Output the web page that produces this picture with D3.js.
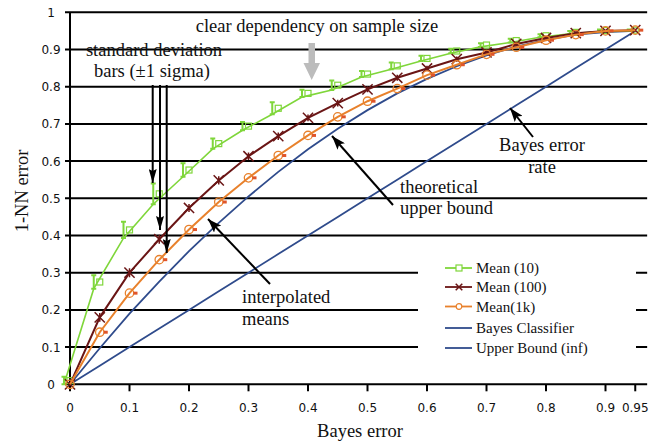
<!DOCTYPE html>
<html>
<head>
<meta charset="utf-8">
<script src="https://cdn.jsdelivr.net/npm/d3@7"></script>
<style>
  body { margin: 0; background: #fff; }
  .tick-label { font-family: "DejaVu Sans", sans-serif; font-size: 12px; fill: #111; }
  .serif { font-family: "Liberation Serif", serif; fill: #111; }
</style>
</head>
<body>
<script>
// bayes error values (x)
const bayes = [0, 0.05, 0.1, 0.15, 0.2, 0.25, 0.3, 0.35, 0.4, 0.45, 0.5,
    0.55, 0.6, 0.65, 0.7, 0.75, 0.8, 0.85, 0.9, 0.95];

// mean 1-NN error, sample size 10 (with sigma)
const mean10 = [0.01, 0.275, 0.415, 0.512, 0.576, 0.647, 0.694, 0.742, 0.782, 0.804, 0.834,
    0.856, 0.876, 0.896, 0.912, 0.924, 0.937, 0.946, 0.951, 0.952];
const sd10 = [0.01, 0.018, 0.022, 0.028, 0.018, 0.014, 0.011, 0.016, 0.010, 0.013, 0.008,
    0.009, 0.007, 0.006, 0.005, 0.005, 0.004, 0.004, 0.003, 0.002];

// sample size 100
const mean100 = [0, 0.18, 0.30, 0.39, 0.474, 0.548, 0.613, 0.667, 0.716, 0.756, 0.793,
    0.824, 0.849, 0.874, 0.892, 0.915, 0.931, 0.944, 0.950, 0.952];
const sd100 = [0.004, 0.012, 0.012, 0.012, 0.011, 0.011, 0.010, 0.010, 0.009, 0.009, 0.008,
    0.008, 0.007, 0.007, 0.006, 0.006, 0.005, 0.005, 0.004, 0.004];

// sample size 1k
const mean1k = [0, 0.14, 0.245, 0.335, 0.416, 0.49, 0.555, 0.615, 0.669, 0.719, 0.761,
    0.795, 0.831, 0.859, 0.887, 0.906, 0.925, 0.94, 0.95, 0.952];
const sd1k = [0.003, 0.004, 0.004, 0.004, 0.004, 0.004, 0.004, 0.004, 0.004, 0.004, 0.004,
    0.004, 0.004, 0.004, 0.004, 0.004, 0.004, 0.004, 0.004, 0.004];

// bayes classifier and asymptotic upper bound
const bayesLine = [0, 0.05, 0.1, 0.15, 0.2, 0.25, 0.3, 0.35, 0.4, 0.45, 0.5,
    0.55, 0.6, 0.65, 0.7, 0.75, 0.8, 0.85, 0.9, 0.95];
const upperBound = [0, 0.097, 0.19, 0.276, 0.358, 0.434, 0.505, 0.571, 0.632, 0.687, 0.737,
    0.782, 0.821, 0.855, 0.884, 0.908, 0.926, 0.94, 0.947, 0.95];

// tick values
const xTicks = [0, 0.1, 0.2, 0.3, 0.4, 0.5, 0.6, 0.7, 0.8, 0.9, 0.95];
const yTicks = [0, 0.1, 0.2, 0.3, 0.4, 0.5, 0.6, 0.7, 0.8, 0.9, 1];

const legendNames = ["Mean (10)", "Mean (100)", "Mean(1k)", "Bayes Classifier", "Upper Bound (inf)"];

const width = 668;
const height = 445;

const green = "#7fd63a";
const maroon = "#6a1515";
const orange = "#e8812c";
const blue = "#2f4b8c";

const x = d3.scaleLinear().domain([0, 1]).range([70, 665]);
const y = d3.scaleLinear().domain([0, 1]).range([384.3, 12.3]);

let svg = d3.select("body")
    .append("svg")
    .attr("width", width)
    .attr("height", height);

svg.append("rect").attr("width", width).attr("height", height).attr("fill", "#fff");

// arrow heads
const defs = svg.append("defs");
defs.append("marker")
    .attr("id", "head")
    .attr("markerUnits", "userSpaceOnUse")
    .attr("viewBox", "0 0 14 10")
    .attr("refX", 14).attr("refY", 5)
    .attr("markerWidth", 14).attr("markerHeight", 10)
    .attr("orient", "auto")
    .append("path")
    .attr("d", "M0,0 L14,5 L0,10 L3,5 Z")
    .attr("fill", "#000");
defs.append("marker")
    .attr("id", "thin")
    .attr("markerUnits", "userSpaceOnUse")
    .attr("viewBox", "0 0 14 8")
    .attr("refX", 14).attr("refY", 4)
    .attr("markerWidth", 14).attr("markerHeight", 8)
    .attr("orient", "auto")
    .append("path")
    .attr("d", "M0,0 L14,4 L0,8 L2,4 Z")
    .attr("fill", "#000");

// horizontal grid lines
svg.append("g")
    .selectAll("line")
    .data(yTicks.slice(1))
    .enter()
    .append("line")
    .attr("x1", x(0) - 5)
    .attr("x2", x(0.97))
    .attr("y1", d => y(d))
    .attr("y2", d => y(d))
    .attr("stroke", "#000")
    .attr("stroke-width", 2);

// x axis
const xAxis = svg.append("g")
    .attr("transform", "translate(0," + y(0) + ")");
xAxis.append("line")
    .attr("x1", x(0) - 5).attr("x2", x(0.97))
    .attr("stroke", "#000").attr("stroke-width", 2);
xAxis.selectAll(".tk")
    .data(xTicks)
    .enter()
    .append("line")
    .attr("x1", d => x(d)).attr("x2", d => x(d))
    .attr("y1", 0).attr("y2", 7)
    .attr("stroke", "#000").attr("stroke-width", 2);
xAxis.selectAll("text")
    .data(xTicks)
    .enter()
    .append("text")
    .attr("class", "tick-label")
    .attr("x", d => x(d))
    .attr("y", 28)
    .attr("text-anchor", "middle")
    .text(d => d3.format("")(d));

// y axis
svg.append("line")
    .attr("x1", x(0)).attr("x2", x(0))
    .attr("y1", y(1)).attr("y2", y(0) + 6)
    .attr("stroke", "#000").attr("stroke-width", 2);
svg.append("g")
    .selectAll("text")
    .data(yTicks)
    .enter()
    .append("text")
    .attr("class", "tick-label")
    .attr("x", 51)
    .attr("y", d => y(d) + 4.5)
    .attr("text-anchor", "middle")
    .text(d => d3.format("")(d));

// axis titles
svg.append("text")
    .attr("class", "serif")
    .attr("x", 360).attr("y", 437)
    .attr("text-anchor", "middle")
    .style("font-size", "18.5px")
    .text("Bayes error");
svg.append("text")
    .attr("class", "serif")
    .attr("transform", "translate(28,191) rotate(-90)")
    .attr("text-anchor", "middle")
    .style("font-size", "18.5px")
    .text("1-NN error");

// lines
const line = d3.line();

svg.append("path")
    .datum(bayes.map((b, i) => [x(b), y(bayesLine[i])]))
    .attr("d", line)
    .attr("fill", "none").attr("stroke", blue).attr("stroke-width", 1.8);
svg.append("path")
    .datum(bayes.map((b, i) => [x(b), y(upperBound[i])]))
    .attr("d", line)
    .attr("fill", "none").attr("stroke", blue).attr("stroke-width", 1.8);

// mean (10): line runs through the lower ends of the sigma bars, bars drawn left of the squares
svg.append("path")
    .datum(bayes.map((b, i) => [x(b) - 6, y(mean10[i] - sd10[i])]))
    .attr("d", line)
    .attr("fill", "none").attr("stroke", green).attr("stroke-width", 1.6);
const bars10 = svg.append("g").attr("stroke", green).attr("stroke-width", 2);
bars10.selectAll(".v")
    .data(bayes)
    .enter()
    .append("path")
    .attr("d", (b, i) => {
        const cx = x(b) - 6, y0 = y(mean10[i] - sd10[i]), y1 = y(mean10[i] + sd10[i]);
        return "M" + cx + "," + y0 + "V" + y1 + "M" + (cx - 2.5) + "," + y1 + "H" + (cx + 2.5) +
            "M" + (cx - 2.5) + "," + y0 + "H" + (cx + 2.5);
    })
    .attr("fill", "none");
svg.append("g")
    .selectAll("rect")
    .data(bayes)
    .enter()
    .append("rect")
    .attr("x", b => x(b) - 3)
    .attr("y", (b, i) => y(mean10[i]) - 3)
    .attr("width", 6).attr("height", 6)
    .attr("fill", "none").attr("stroke", green).attr("stroke-width", 1.2);

// mean (100)
svg.append("path")
    .datum(bayes.map((b, i) => [x(b), y(mean100[i])]))
    .attr("d", line)
    .attr("fill", "none").attr("stroke", maroon).attr("stroke-width", 2);
svg.append("g")
    .selectAll("path")
    .data(bayes)
    .enter()
    .append("path")
    .attr("transform", (b, i) => "translate(" + x(b) + "," + y(mean100[i]) + ")")
    .attr("d", (b, i) => d3.symbol(d3.symbolTimes, 70)() +
        "M0," + (y(0) - y(sd100[i])) + "V" + (y(sd100[i]) - y(0)))
    .attr("fill", "none").attr("stroke", maroon).attr("stroke-width", 1.5);

// mean (1k)
svg.append("path")
    .datum(bayes.map((b, i) => [x(b), y(mean1k[i])]))
    .attr("d", line)
    .attr("fill", "none").attr("stroke", orange).attr("stroke-width", 2);
svg.append("g")
    .selectAll("circle")
    .data(bayes)
    .enter()
    .append("circle")
    .attr("cx", b => x(b))
    .attr("cy", (b, i) => y(mean1k[i]))
    .attr("r", 4.2)
    .attr("fill", "none").attr("stroke", orange).attr("stroke-width", 1.3);
svg.append("g")
    .selectAll("rect")
    .data(bayes.slice(1))
    .enter()
    .append("rect")
    .attr("x", b => x(b) + 4)
    .attr("y", (b, i) => y(mean1k[i + 1] + sd1k[i + 1]))
    .attr("width", 4)
    .attr("height", (b, i) => y(mean1k[i + 1] - sd1k[i + 1]) - y(mean1k[i + 1] + sd1k[i + 1]))
    .attr("fill", "#e0552a");

// legend
const legend = svg.append("g").attr("transform", "translate(418,256)");
legend.append("rect").attr("width", 218).attr("height", 106).attr("fill", "#fff");
const legColors = [green, maroon, orange, blue, blue];
const legY = [12, 31, 50.5, 72, 92];
legendNames.forEach((name, i) => {
    const row = legend.append("g").attr("transform", "translate(0," + legY[i] + ")");
    row.append("line")
        .attr("x1", 27).attr("x2", 54)
        .attr("stroke", legColors[i]).attr("stroke-width", 1.8);
    if (i === 0) {
        row.append("rect").attr("x", 38).attr("y", -3).attr("width", 6).attr("height", 6)
            .attr("fill", "#fff").attr("stroke", green).attr("stroke-width", 1.2);
    } else if (i === 1) {
        row.append("path").attr("transform", "translate(41,0)")
            .attr("d", d3.symbol(d3.symbolTimes, 30)())
            .attr("stroke", maroon).attr("stroke-width", 1.5);
    } else if (i === 2) {
        row.append("circle").attr("cx", 41).attr("r", 2.8)
            .attr("fill", "#fff").attr("stroke", orange).attr("stroke-width", 1.2);
    }
    row.append("text")
        .attr("class", "serif")
        .attr("x", 58).attr("y", 5)
        .style("font-size", "15px")
        .text(name);
});

// annotations
const note = (tx, ty, str, anchor) => svg.append("text")
    .attr("class", "serif")
    .attr("x", tx).attr("y", ty)
    .attr("text-anchor", anchor || "start")
    .style("font-size", "18.5px")
    .text(str);

note(317, 32, "clear dependency on sample size", "middle");
note(154, 56, "standard deviation", "middle");
note(152, 77, "bars (\u00b11 sigma)", "middle");
note(242, 303, "interpolated");
note(242, 325, "means");
note(400, 193, "theoretical");
note(400, 214, "upper bound");
note(542, 151, "Bayes error", "middle");
note(542, 173, "rate", "middle");

// grey arrow
svg.append("path")
    .attr("d", "M308.5,43 H315 V63 H320 L311.7,80 L303.5,63 H308.5 Z")
    .attr("fill", "#bcbcbc");

// sigma arrows
[[152.7, 183], [160, 230], [166.7, 253]].forEach(a => {
    svg.append("line")
        .attr("x1", a[0]).attr("y1", 85)
        .attr("x2", a[0]).attr("y2", a[1])
        .attr("stroke", "#000").attr("stroke-width", 2)
        .attr("marker-end", "url(#thin)");
});

// pointer arrows
[[270, 284, 208, 219], [393, 205, 332, 136], [533, 137, 510, 108]].forEach(a => {
    svg.append("line")
        .attr("x1", a[0]).attr("y1", a[1])
        .attr("x2", a[2]).attr("y2", a[3])
        .attr("stroke", "#000").attr("stroke-width", 2)
        .attr("marker-end", "url(#head)");
});
</script>
</body>
</html>
